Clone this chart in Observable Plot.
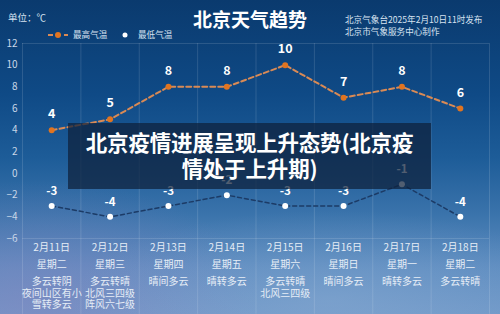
<!DOCTYPE html>
<html><head><meta charset="utf-8">
<script src="https://cdn.jsdelivr.net/npm/d3@7"></script>
<script src="https://cdn.jsdelivr.net/npm/@observablehq/plot@0.6"></script>
<style>
html,body{margin:0;padding:0;}
body{width:500px;height:314px;overflow:hidden;font-family:"Noto Sans CJK SC","Noto Sans",sans-serif;}
#wrap{position:relative;width:500px;height:314px;
 background:
  radial-gradient(ellipse 260px 90px at 330px 300px, rgba(150,180,215,0.35), rgba(150,180,215,0) 100%),
  radial-gradient(ellipse 220px 120px at 40px 300px, rgba(140,130,190,0.45), rgba(140,130,190,0) 100%),
  linear-gradient(180deg,#0a3a6e 0%,#0f4a86 30%,#1d5c98 50%,#3a73ab 68%,#5d8cc0 85%,#6f98c8 100%);}
#wrap svg{position:absolute;left:0;top:0;background:transparent;}
.t{position:absolute;color:#d6e2f0;white-space:nowrap;}
#title{left:0;width:500px;top:5px;text-align:center;font-size:19px;font-weight:bold;color:#fff;}
#unit{left:8px;top:10px;font-size:9.5px;}
#src{left:345px;top:13px;font-size:8.6px;line-height:12px;}
#legend{left:48px;top:29px;font-size:8.6px;height:12px;}
#overlay{position:absolute;left:68px;top:123px;width:363px;height:66px;background:rgba(14,32,58,0.72);
 color:#fff;font-weight:bold;font-size:21.5px;line-height:26px;text-align:center;padding-top:6px;box-sizing:border-box;letter-spacing:-0.2px;}
</style></head>
<body><div id="wrap"></div>
<script>
const dates = ["2月11日","2月12日","2月13日","2月14日","2月15日","2月16日","2月17日","2月18日"];
const weekdays = ["星期二","星期三","星期四","星期五","星期六","星期日","星期一","星期二"];
const weather = ["多云转阴\n夜间山区有小\n雪转多云","多云转晴\n北风三四级\n阵风六七级","晴间多云","晴转多云","多云转晴\n北风三四级","晴间多云","晴转多云","多云转晴"];
const highTemps = [4,5,8,8,10,7,8,6];
const lowTemps = [-3,-4,-3,-2,-3,-3,-1,-4];
const yTicks = [-6,-4,-2,0,2,4,6,8,10,12];
const seriesNames = ["最高气温","最低气温"];
const titleText = "北京天气趋势";
const unitText = "单位：℃";
const sourceLines = ["北京气象台2025年2月10日11时发布","北京市气象服务中心制作"];
const overlayText = ["北京疫情进展呈现上升态势(北京疫","情处于上升期)"];

const hi = highTemps.map((v,i)=>({x:i+0.5,v}));
const lo = lowTemps.map((v,i)=>({x:i+0.5,v}));
const font = "Noto Sans CJK SC";

const chart = Plot.plot({
  width:500, height:314,
  marginLeft:22, marginRight:11, marginTop:43, marginBottom:76,
  style:{background:"transparent", fontFamily:font, overflow:"visible"},
  x:{type:"linear", domain:[0,dates.length], axis:null},
  y:{domain:[-6,12], axis:null},
  marks:[
    Plot.ruleX(d3.range(0,dates.length+1),{y1:12,y2:-13,stroke:"#ffffff",strokeOpacity:0.13,clip:false}),
    Plot.ruleY([12,-6],{stroke:"#ffffff",strokeOpacity:0.13}),
    Plot.axisY({ticks:yTicks,label:null,tickSize:0,tickPadding:5,fontSize:10,color:"#c9d7e8",textAnchor:"end",fontFamily:font}),
    Plot.line(lo,{x:"x",y:"v",stroke:"#1c3b66",strokeWidth:1.5,strokeDasharray:"4,3"}),
    Plot.dot(lo,{x:"x",y:"v",r:3,fill:"#ffffff",stroke:"none"}),
    Plot.text(lo,{x:"x",y:"v",text:d=>String(d.v),dy:-15,fill:"#ffffff",fontSize:11.5,fontWeight:"600",fontFamily:font}),
    Plot.line(hi,{x:"x",y:"v",stroke:"#d98a55",strokeWidth:2,strokeDasharray:"5,3"}),
    Plot.dot(hi,{x:"x",y:"v",r:3,fill:"#e07420",stroke:"none"}),
    Plot.text(hi,{x:"x",y:"v",text:d=>String(d.v),dy:-16,fill:"#ffffff",fontSize:12.5,fontWeight:"bold",fontFamily:font}),
    Plot.text(dates,{x:(d,i)=>i+0.5,frameAnchor:"bottom",dy:12,text:d=>d,fill:"#e6edf6",fontSize:10,fontFamily:font}),
    Plot.text(weekdays,{x:(d,i)=>i+0.5,frameAnchor:"bottom",dy:29,text:d=>d,fill:"#e6edf6",fontSize:10,fontFamily:font}),
    Plot.text(weather,{x:(d,i)=>i+0.5,frameAnchor:"bottom",dy:39,lineAnchor:"top",lineHeight:1.12,text:d=>d,fill:"#e6edf6",fontSize:10,fontFamily:font})
  ]
});
const wrap = document.getElementById("wrap");
wrap.appendChild(chart);

function addDiv(id, html){const d=document.createElement("div");d.id=id;d.className="t";d.innerHTML=html;wrap.appendChild(d);return d;}
addDiv("title", titleText);
addDiv("unit", unitText);
addDiv("src", sourceLines.join("<br>"));
const leg = addDiv("legend", "");
leg.innerHTML = `<svg width="130" height="12" style="position:absolute;left:0;top:0;overflow:visible">
<line x1="0" y1="6" x2="20" y2="6" stroke="#d98a55" stroke-width="2" stroke-dasharray="5,3"/>
<circle cx="10" cy="6" r="3" fill="#e07420"/>
<circle cx="77" cy="6" r="2.5" fill="#ffffff"/></svg>
<span style="position:absolute;left:25px;top:-1px;">${seriesNames[0]}</span>
<span style="position:absolute;left:90px;top:-1px;">${seriesNames[1]}</span>`;
const ov = document.createElement("div"); ov.id="overlay"; ov.innerHTML = overlayText.join("<br>"); wrap.appendChild(ov);
</script></body></html>
